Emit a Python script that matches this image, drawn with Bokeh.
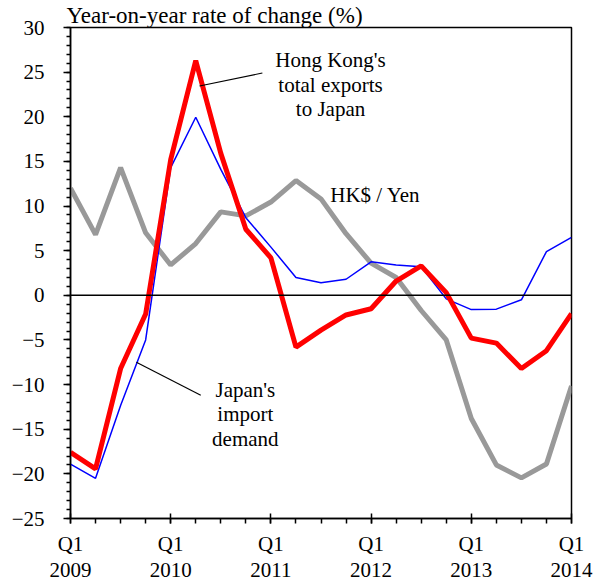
from bokeh.plotting import figure
from bokeh.models import Range1d, FixedTicker, Span, Label
from bokeh.embed import file_html
from bokeh.resources import INLINE

# ---- data ----
quarters = ["Q1 2009", "Q2 2009", "Q3 2009", "Q4 2009",
            "Q1 2010", "Q2 2010", "Q3 2010", "Q4 2010",
            "Q1 2011", "Q2 2011", "Q3 2011", "Q4 2011",
            "Q1 2012", "Q2 2012", "Q3 2012", "Q4 2012",
            "Q1 2013", "Q2 2013", "Q3 2013", "Q4 2013",
            "Q1 2014"]
hk_exports_to_japan = [-17.6, -19.45, -8.2, -2.1, 15.2, 26.3, 15.9, 7.4, 4.2, -5.8,
                       -3.9, -2.2, -1.5, 1.6, 3.3, 0.3, -4.8, -5.35, -8.2, -6.2, -2.05]
japan_import_demand = [-18.9, -20.5, -12.35, -5.0, 14.3, 19.95, 14.1, 8.7, 5.4, 2.0,
                       1.4, 1.8, 3.75, 3.4, 3.2, -0.4, -1.6, -1.55, -0.5, 4.9, 6.5]
hkd_per_yen = [12.0, 6.8, 14.3, 7.0, 3.4, 5.8, 9.35, 8.9, 10.45, 12.85,
               10.8, 6.9, 3.6, 2.0, -1.7, -5.0, -13.8, -19.0, -20.45, -18.9, -10.15]
year_ticks = [0, 4, 8, 12, 16, 20]
year_tick_labels = ["Q1\n2009", "Q1\n2010", "Q1\n2011", "Q1\n2012", "Q1\n2013", "Q1\n2014"]
y_ticks = [-25, -20, -15, -10, -5, 0, 5, 10, 15, 20, 25, 30]
title_text = "Year-on-year rate of change (%)"

x = list(range(len(quarters)))
FONT = "Liberation Serif"
FS = "21px"

p = figure(width=601, height=584, output_backend="svg", toolbar_location=None,
           x_range=Range1d(0, 20), y_range=Range1d(-25, 30),
           min_border_left=70, min_border_right=30, min_border_top=22, min_border_bottom=64)
p.background_fill_color = "white"
p.border_fill_color = "white"
p.outline_line_color = "black"
p.outline_line_width = 1.5
p.grid.visible = False

# title
p.title.text = title_text
p.title.text_font = FONT
p.title.text_font_size = "23px"
p.title.text_font_style = "normal"
p.title.text_color = "black"
p.title.align = "left"
p.title.offset = -4
p.title.standoff = 0

# axes
p.xaxis.ticker = FixedTicker(ticks=year_ticks, minor_ticks=x)
p.xaxis.major_label_overrides = {t: l for t, l in zip(year_ticks, year_tick_labels)}
p.yaxis.ticker = FixedTicker(ticks=y_ticks, minor_ticks=list(range(-25, 31)))
for ax in (p.xaxis[0], p.yaxis[0]):
    ax.axis_line_color = "black"
    ax.axis_line_width = 1.5
    ax.major_tick_line_color = "black"
    ax.major_tick_line_width = 1.5
    ax.minor_tick_line_color = "black"
    ax.minor_tick_line_width = 1.5
    ax.major_label_text_font = FONT
    ax.major_label_text_font_size = FS
    ax.major_label_text_color = "black"
p.yaxis.major_tick_out = 7
p.yaxis.major_tick_in = 0
p.yaxis.minor_tick_out = 4
p.yaxis.minor_tick_in = 0
p.yaxis.major_label_standoff = 19
p.xaxis.major_tick_out = 5
p.xaxis.major_tick_in = 5
p.xaxis.minor_tick_out = 5
p.xaxis.minor_tick_in = 0
p.xaxis.major_label_standoff = 8
p.xaxis.major_label_text_line_height = 1.1

# zero line
p.add_layout(Span(location=0, dimension="width", line_color="black", line_width=1.5))

# series
p.line(x, hkd_per_yen, line_color="#999999", line_width=5)
p.line(x, japan_import_demand, line_color="#0000ff", line_width=1.5)
p.line(x, hk_exports_to_japan, line_color="#ff0000", line_width=5)

# leader lines
p.segment(x0=[7.66, 2.63], y0=[24.9, -7.5], x1=[5.15, 5.2], y1=[23.45, -11.2],
          line_color="black", line_width=1.2)

def lab(txt, xv, yv, align="center"):
    p.add_layout(Label(x=xv, y=yv, text=txt, text_font=FONT, text_font_size=FS,
                       text_color="black", text_align=align, text_baseline="alphabetic"))

lab("Hong Kong's", 10.38, 26.35)
lab("total exports", 10.38, 23.6)
lab("to Japan", 10.38, 20.85)
lab("HK$ / Yen", 10.37, 11.2, "left")
lab("Japan's", 6.98, -10.6)
lab("import", 6.98, -13.35)
lab("demand", 6.98, -16.1)

open("out.html", "w").write(file_html(p, INLINE))
